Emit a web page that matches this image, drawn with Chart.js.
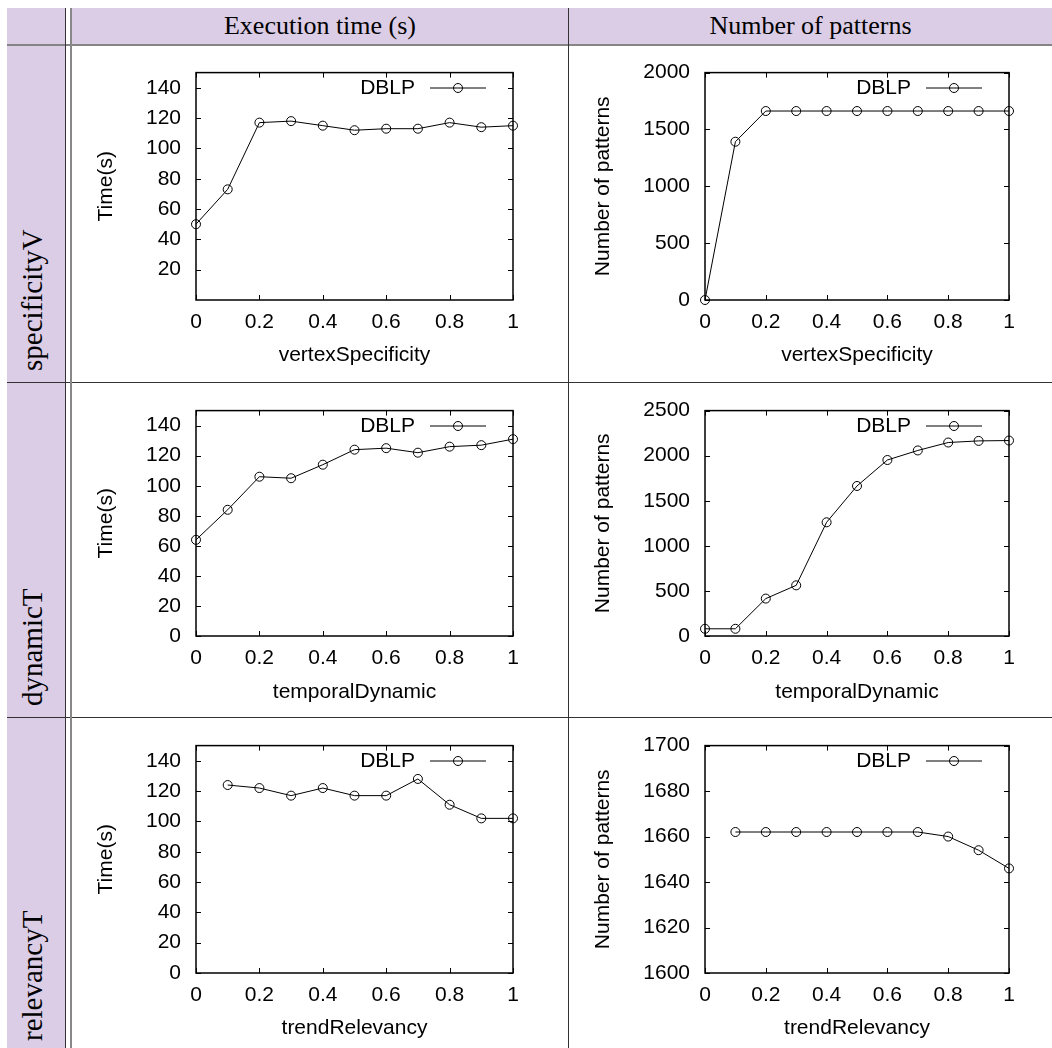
<!DOCTYPE html>
<html lang="en">
<head>
<meta charset="UTF-8">
<title>DBLP parameter study</title>
<script src="https://cdn.jsdelivr.net/npm/chart.js"></script>
<style>
  body { margin: 0; background: #fff; width: 1052px; height: 1048px; position: relative; overflow: hidden; }
  .abs { position: absolute; }
  .lav { background: #dccde6; }
  .serif { font-family: "Liberation Serif", "DejaVu Serif", serif; font-size: 26px; color: #000; white-space: nowrap; line-height: 1; }
  .head { text-align: center; top: 13px; }
  .rowlab { left: 18px; font-size: 29px; transform-origin: 0 0; transform: rotate(-90deg); }
  canvas { position: absolute; }
</style>
</head>
<body>
  <!-- table background and rules -->
  <div class="abs lav" style="left:7px; top:8px; width:58px; height:1040px;"></div>
  <div class="abs lav" style="left:72px; top:8px; width:980px; height:36px;"></div>
  <div class="abs" style="left:7px; top:44px; width:1045px; height:2px; background:#858585;"></div>
  <div class="abs" style="left:7px; top:382px; width:1045px; height:1px; background:#333;"></div>
  <div class="abs" style="left:7px; top:717px; width:1045px; height:1px; background:#333;"></div>
  <div class="abs" style="left:65px; top:8px; width:1px; height:1040px; background:#333;"></div>
  <div class="abs" style="left:70px; top:8px; width:2px; height:1040px; background:#888;"></div>
  <div class="abs" style="left:568px; top:8px; width:1px; height:1040px; background:#333;"></div>

  <div class="abs serif head" style="left:72px; width:496px;">Execution time (s)</div>
  <div class="abs serif head" style="left:569px; width:483px;">Number of patterns</div>

  <div class="abs serif rowlab" style="top:371px;">specificityV</div>
  <div class="abs serif rowlab" style="top:706px;">dynamicT</div>
  <div class="abs serif rowlab" style="top:1041px;">relevancyT</div>

  <canvas id="c11"></canvas>
  <canvas id="c12"></canvas>
  <canvas id="c21"></canvas>
  <canvas id="c22"></canvas>
  <canvas id="c31"></canvas>
  <canvas id="c32"></canvas>

<script>
// parameter sweeps on the x axis
const steps = [0, 0.1, 0.2, 0.3, 0.4, 0.5, 0.6, 0.7, 0.8, 0.9, 1];
const relevancySteps = [0.1, 0.2, 0.3, 0.4, 0.5, 0.6, 0.7, 0.8, 0.9, 1];
const xTicks = [0, 0.2, 0.4, 0.6, 0.8, 1];

// measured series (DBLP)
const specificityTime = [50, 73, 117, 118, 115, 112, 113, 113, 117, 114, 115];
const specificityPatterns = [0, 1392, 1662, 1662, 1662, 1662, 1662, 1662, 1662, 1662, 1662];
const dynamicTime = [64, 84, 106, 105, 114, 124, 125, 122, 126, 127, 131];
const dynamicPatterns = [80, 80, 415, 562, 1261, 1664, 1952, 2058, 2146, 2164, 2168];
const relevancyTime = [124, 122, 117, 122, 117, 117, 128, 111, 102, 102];
const relevancyPatterns = [1662, 1662, 1662, 1662, 1662, 1662, 1662, 1660, 1654, 1646];

// y tick labels
const specificityTimeTicks = [20, 40, 60, 80, 100, 120, 140];
const timeTicks = [0, 20, 40, 60, 80, 100, 120, 140];
const specificityPatternTicks = [0, 500, 1000, 1500, 2000];
const dynamicPatternTicks = [0, 500, 1000, 1500, 2000, 2500];
const relevancyPatternTicks = [1600, 1620, 1640, 1660, 1680, 1700];

const seriesName = 'DBLP';
const xTitles = ['vertexSpecificity', 'temporalDynamic', 'trendRelevancy'];
const yTitles = ['Time(s)', 'Number of patterns'];

const sans = '"Liberation Sans", Arial, sans-serif';
const fontPx = 21;
const lineH = fontPx * 1.2;

// box around the plot, inward tics on all four sides, and the key in the top right
const gnuFrame = {
  id: 'gnuFrame',
  beforeDatasetsDraw(chart) {
    const { ctx, chartArea: a, scales: { x, y } } = chart;
    const tic = 5;
    ctx.save();
    ctx.strokeStyle = '#000';
    ctx.lineWidth = 1;
    ctx.beginPath();
    x.ticks.forEach(t => {
      const px = Math.round(x.getPixelForValue(t.value)) + 0.5;
      ctx.moveTo(px, a.top); ctx.lineTo(px, a.top + tic);
      ctx.moveTo(px, a.bottom); ctx.lineTo(px, a.bottom - tic);
    });
    y.ticks.forEach(t => {
      const py = Math.round(y.getPixelForValue(t.value)) + 0.5;
      ctx.moveTo(a.left, py); ctx.lineTo(a.left + tic, py);
      ctx.moveTo(a.right, py); ctx.lineTo(a.right - tic, py);
    });
    ctx.stroke();
    ctx.lineWidth = 1.5;
    ctx.strokeRect(a.left, a.top, a.right - a.left, a.bottom - a.top);
    ctx.restore();
  },
  afterDatasetsDraw(chart) {
    const { ctx, chartArea: a } = chart;
    const ds = chart.data.datasets[0];
    const ky = Math.round(a.top + 15);
    ctx.save();
    ctx.fillStyle = '#000';
    ctx.font = fontPx + 'px ' + sans;
    ctx.textAlign = 'right';
    ctx.textBaseline = 'middle';
    ctx.fillText(ds.label, a.right - 98, ky);
    ctx.strokeStyle = ds.borderColor;
    ctx.lineWidth = 1;
    ctx.beginPath();
    ctx.moveTo(a.right - 83, ky);
    ctx.lineTo(a.right - 27, ky);
    ctx.stroke();
    ctx.beginPath();
    ctx.arc(a.right - 55, ky, ds.pointRadius, 0, Math.PI * 2);
    ctx.stroke();
    ctx.restore();
  }
};

// box: canvas position on the page, plot: chart area in page coordinates
function panel(id, box, plot, xs, ys, yMin, yMax, yTicks, xTitle, yTitle, xTitleY) {
  const cv = document.getElementById(id);
  cv.width = box.w; cv.height = box.h;
  cv.style.left = box.x + 'px'; cv.style.top = box.y + 'px';

  const yWidth = plot.left - box.x;
  const xHeight = box.y + box.h - plot.bottom;

  new Chart(cv, {
    type: 'line',
    data: {
      datasets: [{
        label: seriesName,
        data: xs.map((v, i) => ({ x: v, y: ys[i] })),
        borderColor: '#000',
        borderWidth: 1,
        tension: 0,
        pointStyle: 'circle',
        pointRadius: 4.5,
        pointBorderWidth: 1,
        pointBorderColor: '#000',
        pointBackgroundColor: 'rgba(0,0,0,0)',
        clip: false
      }]
    },
    options: {
      responsive: false,
      animation: false,
      devicePixelRatio: 1,
      layout: {
        padding: { left: 0, top: plot.top - box.y, right: box.x + box.w - plot.right, bottom: 0 }
      },
      plugins: { legend: { display: false }, tooltip: { enabled: false } },
      scales: {
        x: {
          type: 'linear',
          min: 0, max: 1,
          grid: { display: false, drawTicks: false },
          border: { display: false },
          afterBuildTicks: s => { s.ticks = xTicks.map(v => ({ value: v })); },
          afterFit: s => { s.height = xHeight; },
          ticks: {
            color: '#000', padding: 22 - lineH / 2,
            font: { family: sans, size: fontPx },
            maxRotation: 0, autoSkip: false,
            callback: v => String(v)
          },
          title: {
            display: true, text: xTitle, color: '#000',
            font: { family: sans, size: fontPx },
            padding: { top: 0, bottom: box.y + box.h - xTitleY - lineH / 2 }
          }
        },
        y: {
          type: 'linear',
          min: yMin, max: yMax,
          grid: { display: false, drawTicks: false },
          border: { display: false },
          afterBuildTicks: s => { s.ticks = yTicks.map(v => ({ value: v })); },
          afterFit: s => { s.width = yWidth; },
          ticks: {
            color: '#000', padding: 15,
            font: { family: sans, size: fontPx },
            autoSkip: false,
            callback: v => String(v)
          },
          title: {
            display: true, text: yTitle, color: '#000',
            font: { family: sans, size: fontPx },
            padding: { top: 34 - lineH / 2, bottom: 0 }
          }
        }
      }
    },
    plugins: [gnuFrame]
  });
}

const leftBox = { x: 72, w: 495 };
const rightBox = { x: 569, w: 483 };
const rows = [
  { y: 45, h: 336, top: 72, bottom: 300, xTitleY: 355 },
  { y: 383, h: 333, top: 409, bottom: 636, xTitleY: 692 },
  { y: 718, h: 330, top: 745, bottom: 973, xTitleY: 1028 }
];
const leftPlot = { left: 196, right: 513 };
const rightPlot = { left: 705, right: 1009 };

function cell(col, row) {
  const c = col === 0 ? leftBox : rightBox;
  const p = col === 0 ? leftPlot : rightPlot;
  const r = rows[row];
  return [
    { x: c.x, y: r.y, w: c.w, h: r.h },
    { left: p.left, right: p.right, top: r.top, bottom: r.bottom }
  ];
}

panel('c11', ...cell(0, 0), steps, specificityTime, 0, 150, specificityTimeTicks, xTitles[0], yTitles[0], rows[0].xTitleY);
panel('c12', ...cell(1, 0), steps, specificityPatterns, 0, 2000, specificityPatternTicks, xTitles[0], yTitles[1], rows[0].xTitleY);
panel('c21', ...cell(0, 1), steps, dynamicTime, 0, 150, timeTicks, xTitles[1], yTitles[0], rows[1].xTitleY);
panel('c22', ...cell(1, 1), steps, dynamicPatterns, 0, 2500, dynamicPatternTicks, xTitles[1], yTitles[1], rows[1].xTitleY);
panel('c31', ...cell(0, 2), relevancySteps, relevancyTime, 0, 150, timeTicks, xTitles[2], yTitles[0], rows[2].xTitleY);
panel('c32', ...cell(1, 2), relevancySteps, relevancyPatterns, 1600, 1700, relevancyPatternTicks, xTitles[2], yTitles[1], rows[2].xTitleY);
</script>
</body>
</html>
